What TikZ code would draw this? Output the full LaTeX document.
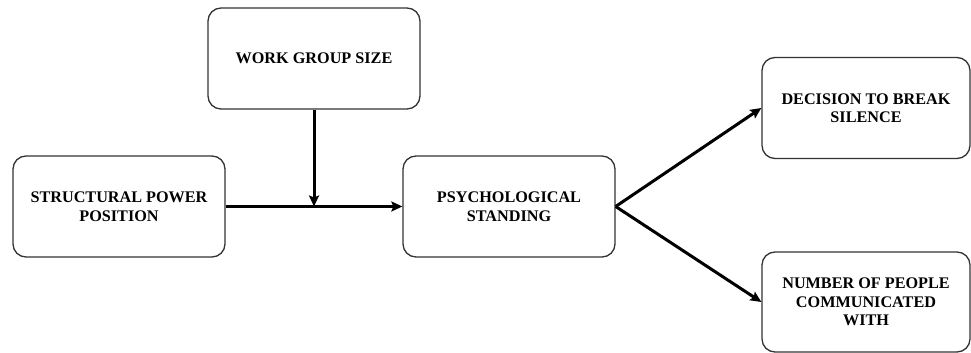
\documentclass[tikz,border=0pt]{standalone}
\usepackage{fontspec}
\setmainfont{Liberation Serif}
\usepackage{tikz}
\usetikzlibrary{arrows.meta}
\tikzset{varbox/.style={draw=black!80, line width=1.3pt, rounded corners=13pt, minimum width=212pt, minimum height=101pt, align=center, inner sep=0pt, font=\fontsize{16.2}{18.5}\selectfont\bfseries},
%thick arrows between the boxes
link/.style={line width=3pt, -{Stealth[length=11pt,width=10pt,inset=2pt]}}}

\begin{document}
\begin{tikzpicture}[x=1pt,y=1pt]
\useasboundingbox (0,0) rectangle (971,353);
% boxes
\node[varbox] (wgs) at (314,294.5) {WORK GROUP SIZE};
\node[varbox] (spp) at (119,146.5) {STRUCTURAL POWER\\POSITION};
\node[varbox] (ps) at (509,146.5) {PSYCHOLOGICAL\\STANDING};
\node[varbox, minimum width=208pt] (dbs) at (866,245) {DECISION TO BREAK\\SILENCE};
\node[varbox, minimum width=208pt, minimum height=100pt] (npc) at (866,51) {NUMBER OF PEOPLE\\COMMUNICATED\\WITH};

% arrows
\draw[link] (spp.east) -- (ps.west);
\draw[link] (wgs.south) -- (wgs.south |- spp.east);
\draw[link] (ps.east) -- (dbs.west);
\draw[link] (ps.east) -- (npc.west);

\end{tikzpicture}
\end{document}
